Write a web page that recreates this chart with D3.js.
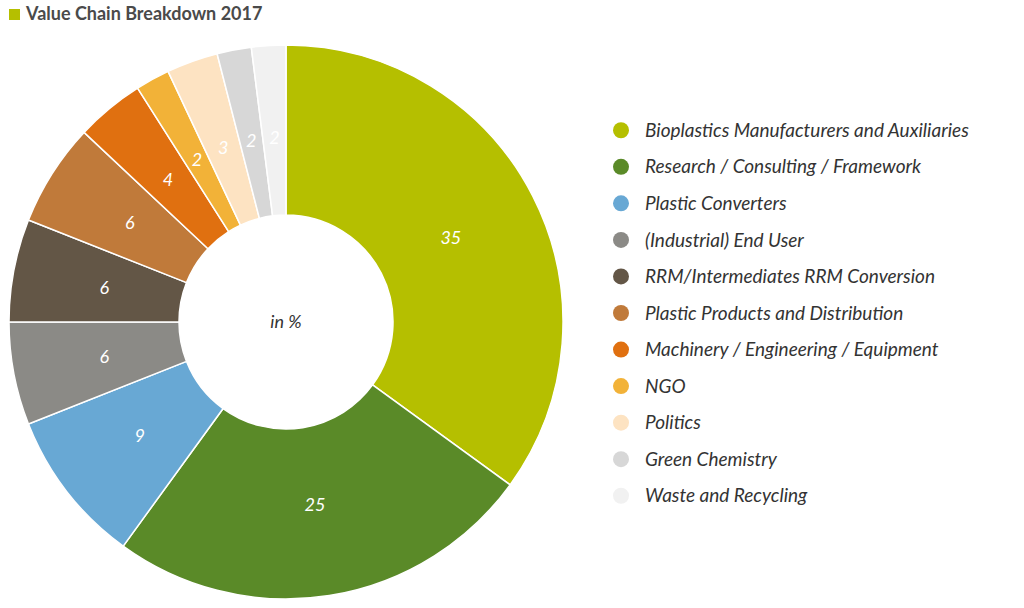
<!DOCTYPE html>
<html>
<head>
<meta charset="utf-8">
<script src="https://cdn.jsdelivr.net/npm/d3@7"></script>
<style>
  body { margin: 0; background: #fff; }
  text { font-family: Lato, "Open Sans", sans-serif; }
</style>
</head>
<body>
<div id="chart"></div>
<script>
// values, in %
const categories = [
  "Bioplastics Manufacturers and Auxiliaries",
  "Research / Consulting / Framework",
  "Plastic Converters",
  "(Industrial) End User",
  "RRM/Intermediates RRM Conversion",
  "Plastic Products and Distribution",
  "Machinery / Engineering / Equipment",
  "NGO",
  "Politics",
  "Green Chemistry",
  "Waste and Recycling"
];
const shares = [35, 25, 9, 6, 6, 6, 4, 2, 3, 2, 2];
const colors = ["#b5bf00", "#5a8a28", "#68a8d4", "#8b8a86", "#635646", "#c07a3a",
                "#e07010", "#f2b238", "#fde3c2", "#d7d7d7", "#f1f1f1"];

const width = 1024, height = 608;
const cx = 286, cy = 322, outerR = 277, innerR = 107;

const svg = d3.select("#chart").append("svg")
  .attr("width", width)
  .attr("height", height);

// title
svg.append("rect").attr("x", 9).attr("y", 9).attr("width", 11).attr("height", 11).attr("fill", colors[0]);
svg.append("text").attr("x", 26).attr("y", 20)
  .attr("font-size", 18).attr("font-weight", "bold").attr("fill", "#4a4a4a")
  .text("Value Chain Breakdown 2017");

const data = categories.map((c, i) => ({ name: c, value: shares[i], color: colors[i] }));

const pie = d3.pie().value(d => d.value).sort(null);
const arc = d3.arc().innerRadius(innerR).outerRadius(outerR);
const labelArc = d3.arc().innerRadius(185).outerRadius(185);

const g = svg.append("g").attr("transform", "translate(" + cx + "," + cy + ")");
const arcs = pie(data);

g.selectAll("path")
  .data(arcs)
  .enter()
  .append("path")
    .attr("d", arc)
    .attr("fill", d => d.data.color)
    .attr("stroke", "#fff")
    .attr("stroke-width", 1.5);

g.selectAll("text.val")
  .data(arcs)
  .enter()
  .append("text")
    .attr("class", "val")
    .attr("transform", d => "translate(" + labelArc.centroid(d) + ")")
    .attr("text-anchor", "middle")
    .attr("dy", "0.35em")
    .attr("font-size", 18)
    .attr("font-style", "italic")
    .attr("fill", "#fff")
    .text(d => d.data.value);

g.append("text")
  .attr("text-anchor", "middle").attr("dy", "0.35em")
  .attr("font-size", 18).attr("font-style", "italic").attr("fill", "#333")
  .text("in %");

// legend
const ly = d3.scaleBand().domain(categories).range([112, 514]);
const legend = svg.append("g").selectAll("g")
  .data(data)
  .enter()
  .append("g")
    .attr("transform", d => "translate(0," + (ly(d.name) + ly.bandwidth() / 2) + ")");

legend.append("circle").attr("cx", 621).attr("r", 8).attr("fill", d => d.color);
legend.append("text")
  .attr("x", 645).attr("dy", "0.35em")
  .attr("font-size", 19).attr("font-style", "italic").attr("fill", "#333")
  .text(d => d.name);
</script>
</body>
</html>
